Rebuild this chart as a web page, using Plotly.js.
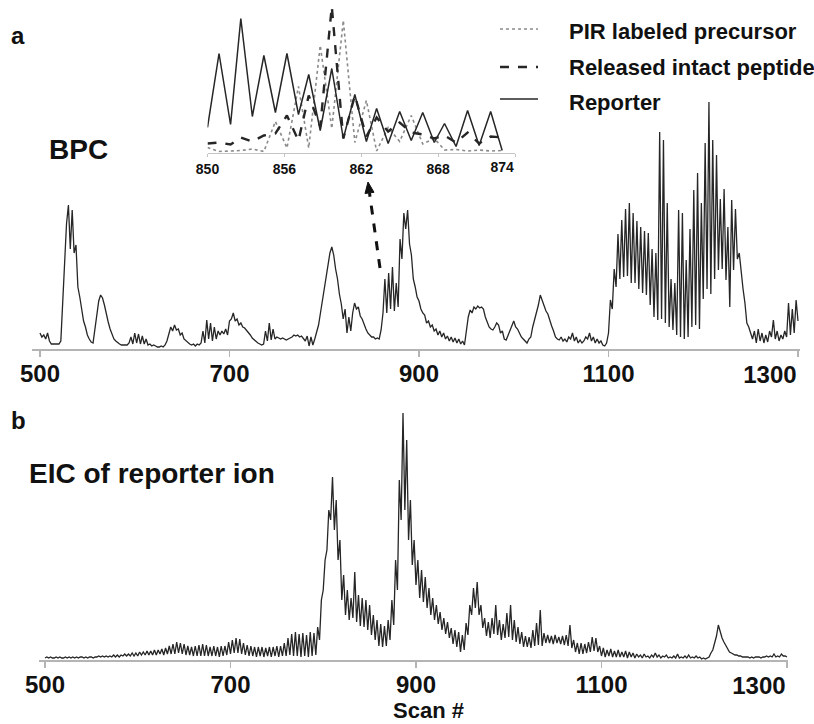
<!DOCTYPE html>
<html>
<head>
<meta charset="utf-8">
<script src="https://cdn.plot.ly/plotly-3.0.1.min.js"></script>
<style>html,body{margin:0;padding:0;background:#fff;}#chart{width:814px;height:724px;}</style>
</head>
<body>
<div id="chart"></div>
<script>
// ---------- data (values are relative intensities) ----------
// Panel a: base peak chromatogram, one value every 2 scans starting at scan 500
const bpcStart = 500;
const bpcStep = 2;
const bpcValues = [
 16,12,14,10,16,8,5,5,5,5,
 5,8,45,95,125,144,100,139,96,104,
 62,52,40,28,22,14,10,7,6,20,
 39,48,54,51,44,34,27,20,15,10,
 8,6,5,4,4,4,4,6,12,5,
 16,6,15,5,13,5,10,4,5,3,
 4,3,2,2,3,2,4,8,16,22,
 18,24,19,20,14,16,10,8,6,5,
 4,5,3,5,4,6,18,6,29,10,
 26,8,22,10,18,14,18,15,20,14,
 28,30,36,28,30,24,26,22,21,19,
 16,14,11,9,7,6,5,4,5,18,
 8,26,9,20,10,12,11,10,11,10,
 9,10,11,12,14,13,14,12,13,11,
 8,13,3,12,4,10,16,24,36,48,
 64,76,84,96,102,94,80,70,55,45,
 30,40,16,32,18,36,46,40,42,33,
 30,24,20,16,14,12,12,10,11,10,
 19,36,70,36,76,40,82,38,66,42,
 110,90,136,120,139,105,94,70,62,52,
 48,40,36,34,26,28,22,24,18,20,
 14,18,12,16,10,13,8,12,7,11,
 6,10,5,8,4,20,32,39,36,42,
 40,43,41,42,40,32,26,22,20,19,
 22,26,24,16,18,10,9,14,18,24,
 28,22,20,16,12,10,8,6,10,12,
 22,29,36,44,54,48,42,38,35,28,
 23,18,12,10,9,12,8,10,7,12,
 10,16,8,12,6,9,6,8,12,10,
 16,8,12,6,10,6,8,4,3,6,
 16,49,40,80,62,115,70,129,72,140,
 73,146,66,136,66,128,60,122,56,118,
 54,116,44,100,32,96,29,217,30,209,
 26,146,22,70,19,66,14,139,12,136,
 10,89,12,120,22,159,24,176,20,146,
 50,206,60,247,55,209,70,194,79,150,
 80,160,69,122,42,149,79,140,90,96,
 76,60,46,26,22,16,10,18,6,20,
 8,16,6,14,7,18,12,29,10,18,
 8,14,10,18,12,46,14,40,16,49,
 28
];

// Panel b: extracted ion chromatogram of the reporter ion, one value every 2 scans from scan 500
const eicStart = 500;
const eicStep = 2;
const eicValues = [
 2,3,2,3,2,2,3,2,3,2,
 2,3,2,3,2,3,2,3,2,3,
 3,2,3,2,3,3,2,3,3,4,
 3,4,3,4,3,4,3,5,3,5,
 3,5,4,6,4,6,4,7,4,7,
 4,8,5,8,5,9,5,9,5,10,
 5,10,6,11,5,12,6,14,6,16,
 6,18,7,17,6,16,5,14,5,13,
 4,14,4,15,4,16,4,15,4,13,
 4,14,4,13,3,14,4,14,5,18,
 6,20,7,22,7,21,6,17,5,15,
 4,14,4,13,3,13,4,13,3,12,
 4,13,3,13,4,14,3,14,4,17,
 4,22,5,26,4,28,4,26,3,27,
 4,25,3,28,4,27,5,33,20,60,
 70,100,110,150,140,183,130,160,100,120,
 60,85,45,70,40,62,42,88,38,65,
 34,62,33,60,30,55,25,45,20,40,
 14,36,13,34,14,40,20,60,35,100,
 70,180,140,247,150,220,120,160,95,120,
 75,100,62,90,58,83,52,72,45,62,
 40,55,36,48,30,42,26,38,22,32,
 16,30,13,28,8,25,10,37,25,55,
 45,72,52,78,45,55,32,42,24,38,
 22,42,26,55,25,40,20,36,22,47,
 23,55,20,40,18,33,16,28,13,24,
 13,23,12,30,14,37,15,50,14,27,
 17,25,17,24,16,25,17,23,16,24,
 15,25,14,35,12,20,8,17,6,17,
 6,16,7,18,8,23,9,22,8,14,
 4,12,3,10,4,11,3,9,3,10,
 3,8,3,9,2,8,3,7,2,6,
 3,5,2,6,3,4,2,5,3,7,
 3,5,2,4,3,5,2,3,2,4,
 2,6,2,3,2,4,2,5,2,3,
 2,4,2,3,1,2,1,2,3,7,
 10,17,24,35,28,22,18,15,11,8,
 7,6,5,5,4,4,3,3,3,3,
 2,3,2,3,3,3,2,3,3,4,
 3,4,3,6,3,4,3,6,4,4,
 3
];

// Inset: scans 850-874
const insetScans = [850.0,850.9,851.8,852.6,853.5,854.4,855.3,856.2,857.1,857.9,858.8,859.7,860.6,861.5,862.4,863.2,864.1,865.0,865.9,866.8,867.7,868.5,869.4,870.3,871.2,872.1,873.0];
const precursorValues = [5,1,1.5,2,3.5,1,31,4.5,66,4.5,107,24,132,10,52,1.5,25,11,37,8.5,14,2.5,3,1.5,2.5,1.5,2];
const releasedValues  = [9,10,8,15,11,17,19,37,12,57,26,146,14,57,16,35,21,30,20,18,14,17,10,20,9,16,15];
const reporterValues  = [25,99,28,134,36,97,40,99,38,78,22,84,14,58,11,44,9,41,12,40,10,29,6,42,7,41,2];

const mainTicks = [500,700,900,1100];
const mainTickText = ['500','700','900','1100'];
const mainEndTick = [1300];
const mainEndText = ['1300'];
const insetTicks = [850,856,862,868];
const insetTickText = ['850','856','862','868'];
const insetEndTick = [874];
const insetEndText = ['874'];

const seriesNames = ['PIR labeled precursor','Released intact peptide','Reporter'];
const panelLabels = ['a','b'];
const panelTitles = ['BPC','EIC of reporter ion'];
const xTitle = 'Scan #';

// ---------- figure ----------
const FONT = 'Liberation Sans, Arial, Helvetica, sans-serif';
const W = 814, H = 724;
const px = v => v / W;
const py = v => 1 - v / H;
const ink = '#262626';
const axisGrey = '#b4b4b4';
const bold = size => ({family: FONT, size: size, color: '#111', weight: 'bold'});

const traces = [
  {x0: bpcStart, dx: bpcStep, y: bpcValues, xaxis: 'x', yaxis: 'y', type: 'scatter', mode: 'lines',
   line: {color: ink, width: 1.3}, name: panelTitles[0], showlegend: false},
  {x0: eicStart, dx: eicStep, y: eicValues, xaxis: 'x2', yaxis: 'y2', type: 'scatter', mode: 'lines',
   line: {color: ink, width: 1.3}, name: panelTitles[1], showlegend: false},
  {x: insetScans, y: precursorValues, xaxis: 'x3', yaxis: 'y3', type: 'scatter', mode: 'lines',
   line: {color: '#8a8a8a', width: 1.6, dash: 'dot'}, name: seriesNames[0], showlegend: false},
  {x: insetScans, y: reporterValues, xaxis: 'x3', yaxis: 'y3', type: 'scatter', mode: 'lines',
   line: {color: ink, width: 1.5}, name: seriesNames[2], showlegend: false},
  {x: insetScans, y: releasedValues, xaxis: 'x3', yaxis: 'y3', type: 'scatter', mode: 'lines',
   line: {color: ink, width: 2.4, dash: 'dash'}, name: seriesNames[1], showlegend: false},
  // empty traces so the end-label axes (right-aligned last tick labels) are drawn
  {x: [], y: [], xaxis: 'x4', yaxis: 'y', type: 'scatter', mode: 'lines', showlegend: false, hoverinfo: 'skip'},
  {x: [], y: [], xaxis: 'x5', yaxis: 'y2', type: 'scatter', mode: 'lines', showlegend: false, hoverinfo: 'skip'},
  {x: [], y: [], xaxis: 'x6', yaxis: 'y3', type: 'scatter', mode: 'lines', showlegend: false, hoverinfo: 'skip'}
];

const mainX = (domain, range, anchor, vals, text, pos, standoff) => ({
  domain: domain, range: range, anchor: anchor, autorange: false,
  showline: true, linecolor: axisGrey, linewidth: 1.5,
  ticks: 'outside', ticklen: 6, tickwidth: 1.2, tickcolor: axisGrey,
  tickmode: 'array', tickvals: vals, ticktext: text,
  tickfont: bold(24), ticklabelstandoff: standoff, ticklabelposition: pos,
  showgrid: false, zeroline: false, fixedrange: true
});
const insetX = (vals, text, pos, standoff) => ({
  domain: [px(207.5), px(515)], range: [850, 874], anchor: 'y3', autorange: false,
  showline: true, linecolor: '#c4c4c4', linewidth: 1.2,
  ticks: 'outside', ticklen: 3, tickcolor: '#c4c4c4',
  tickmode: 'array', tickvals: vals, ticktext: text,
  tickfont: bold(14), ticklabelposition: pos, ticklabelstandoff: standoff,
  showgrid: false, zeroline: false, fixedrange: true
});
const hiddenY = (domain, range) => ({domain: domain, range: range, visible: false, showgrid: false, zeroline: false, fixedrange: true});

const domA = [px(32.4), px(799.9)], rangeA = [492, 1302];
const domB = [px(38.5), px(787.9)], rangeB = [493, 1301];

const xa = mainX(domA, rangeA, 'y', mainTicks, mainTickText, 'outside', -3);
const xaEnd = mainX(domA, rangeA, 'y', mainEndTick, mainEndText, 'outside left', 4); xaEnd.overlaying = 'x';
const xb = mainX(domB, rangeB, 'y2', mainTicks, mainTickText, 'outside', -3);
const xbEnd = mainX(domB, rangeB, 'y2', mainEndTick, mainEndText, 'outside left', 4); xbEnd.overlaying = 'x2';
const xi = insetX(insetTicks, insetTickText, 'outside', 0);
const xiEnd = insetX(insetEndTick, insetEndText, 'outside left', 1); xiEnd.overlaying = 'x3';

const note = (text, x, y, anchor, size) => ({text: text, xref: 'paper', yref: 'paper', x: px(x), y: py(y),
  xanchor: anchor, yanchor: 'middle', showarrow: false, font: bold(size)});

const layout = {
  width: W, height: H,
  margin: {l: 0, r: 0, t: 0, b: 0, pad: 0},
  paper_bgcolor: '#fff', plot_bgcolor: 'rgba(0,0,0,0)',
  showlegend: false,
  xaxis: xa, xaxis4: xaEnd,
  yaxis: hiddenY([py(349), py(99)], [0, 250]),
  xaxis2: xb, xaxis5: xbEnd,
  yaxis2: hiddenY([py(660), py(410)], [0, 250]),
  xaxis3: xi, xaxis6: xiEnd,
  yaxis3: hiddenY([py(152.5), py(7.5)], [0, 145]),
  annotations: [
    note(panelLabels[0], 18, 35, 'center', 24),
    note(panelTitles[0], 47, 150, 'left', 28),
    note(panelLabels[1], 18, 420, 'center', 24),
    note(panelTitles[1], 27, 473, 'left', 28),
    note(seriesNames[0], 567, 31, 'left', 22),
    note(seriesNames[1], 567, 67, 'left', 22),
    note(seriesNames[2], 567, 102, 'left', 22),
    note(xTitle, 428, 710, 'center', 22)
  ],
  shapes: [
    // legend samples
    {type: 'line', xref: 'paper', yref: 'paper', x0: px(500), x1: px(538), y0: py(29), y1: py(29), line: {color: '#8a8a8a', width: 1.6, dash: 'dot'}},
    {type: 'line', xref: 'paper', yref: 'paper', x0: px(500), x1: px(538), y0: py(67), y1: py(67), line: {color: ink, width: 2.4, dash: 'dash'}},
    {type: 'line', xref: 'paper', yref: 'paper', x0: px(500), x1: px(538), y0: py(99), y1: py(99), line: {color: ink, width: 1.5}},
    // dashed arrow from BPC to inset
    {type: 'line', xref: 'paper', yref: 'paper', x0: px(380), y0: py(268), x1: px(369.5), y1: py(193), line: {color: '#111', width: 3, dash: 'dash'}},
    {type: 'path', xref: 'paper', yref: 'paper',
     path: 'M ' + px(368) + ' ' + py(182) + ' L ' + px(374) + ' ' + py(192.3) + ' L ' + px(365) + ' ' + py(193.5) + ' Z',
     fillcolor: '#111', line: {color: '#111', width: 1}}
  ]
};

Plotly.newPlot('chart', traces, layout, {displayModeBar: false, staticPlot: true});
</script>
</body>
</html>
